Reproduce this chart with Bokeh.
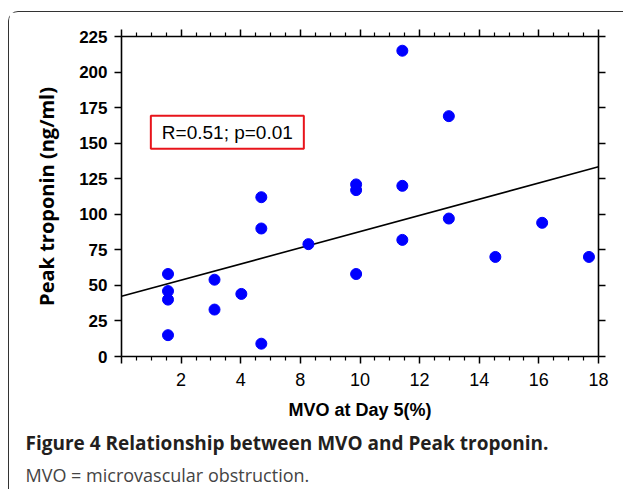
from bokeh.plotting import figure
from bokeh.models import (Range1d, LinearAxis, FixedTicker, Label, Title,
                          CustomJSTickFormatter, ColumnDataSource)
from bokeh.embed import file_html
from bokeh.resources import INLINE

# ---- data (x in axis units; each major interval = one labelled step) ----
mvo_x = [1.56, 1.56, 1.56, 1.56, 3.12, 3.12, 4.02, 4.69, 4.69, 4.69, 6.27,
         7.87, 7.87, 7.87, 9.42, 9.42, 9.42, 10.98, 10.98, 12.54, 14.11, 15.68]
troponin_y = [58, 46, 40, 15, 54, 33, 44, 112, 90, 9, 79,
              121, 117, 58, 215, 120, 82, 169, 97, 70, 94, 70]
fit_x = [0, 16]
fit_y = [42.3, 133.4]
x_ticks = [0, 2, 4, 6, 8, 10, 12, 14, 16]
x_tick_labels = ["", "2", "4", "8", "10", "12", "14", "16", "18"]
y_ticks = [0, 25, 50, 75, 100, 125, 150, 175, 200, 225]
stat_text = "R=0.51; p=0.01"
x_title = "MVO at Day 5(%)"
y_title = "Peak troponin (ng/ml)"
caption1 = "Figure 4 Relationship between MVO and Peak troponin."
caption2 = "MVO = microvascular obstruction."

minor_x = [t / 2 for t in range(0, 33) if t % 4 != 0]

p = figure(width=615, height=478, x_range=Range1d(0, 16), y_range=Range1d(0, 225),
           output_backend="svg", toolbar_location=None,
           x_axis_location=None, y_axis_location=None,
           min_border_left=112, min_border_right=26, min_border_top=24,
           min_border_bottom=134)
p.margin = (11, 0, 0, 8)
p.styles = {"border-top": "1.5px solid #333", "border-left": "1.5px solid #333",
            "border-top-left-radius": "10px"}
p.outline_line_color = None
p.grid.visible = False
p.background_fill_color = "white"
p.border_fill_color = "white"

blank = CustomJSTickFormatter(code="return ''")

def style_axis(ax):
    ax.axis_line_color = "black"
    ax.axis_line_width = 1.6
    ax.major_tick_line_color = "black"
    ax.major_tick_line_width = 1.5
    ax.minor_tick_line_color = "black"
    ax.minor_tick_line_width = 1.2
    ax.major_tick_in = 0
    ax.major_tick_out = 7
    ax.minor_tick_in = 0
    ax.minor_tick_out = 4

xb = LinearAxis(ticker=FixedTicker(ticks=x_ticks, minor_ticks=minor_x))
style_axis(xb)
xb.major_label_overrides = {t: l for t, l in zip(x_ticks, x_tick_labels)}
xb.major_label_text_font = "Liberation Sans"
xb.major_label_text_font_size = "18px"
xb.major_label_text_color = "black"
xb.major_label_standoff = 9
xb.axis_label = x_title
xb.axis_label_text_font = "Liberation Sans"
xb.axis_label_text_font_size = "18px"
xb.axis_label_text_font_style = "bold"
xb.axis_label_text_color = "black"
xb.axis_label_standoff = 11
p.add_layout(xb, "below")

xt = LinearAxis(ticker=FixedTicker(ticks=x_ticks, minor_ticks=minor_x), formatter=blank)
style_axis(xt)
xt.major_label_standoff = 0
p.add_layout(xt, "above")

yl = LinearAxis(ticker=FixedTicker(ticks=y_ticks, minor_ticks=[]))
style_axis(yl)
yl.major_label_text_font = "Liberation Sans"
yl.major_label_text_font_size = "17px"
yl.major_label_text_font_style = "bold"
yl.major_label_text_color = "black"
yl.major_label_standoff = 7
yl.axis_label = y_title
yl.axis_label_text_font = "Open Sans"
yl.axis_label_text_font_size = "20px"
yl.axis_label_text_font_style = "bold"
yl.axis_label_text_color = "black"
yl.axis_label_standoff = 16
p.add_layout(yl, "left")

yr = LinearAxis(ticker=FixedTicker(ticks=y_ticks, minor_ticks=[]), formatter=blank)
style_axis(yr)
yr.major_label_standoff = 0
p.add_layout(yr, "right")

src = ColumnDataSource(dict(x=mvo_x, y=troponin_y))
p.line(fit_x, fit_y, line_color="black", line_width=1.6)
p.scatter("x", "y", source=src, size=11, fill_color="#0000ff", line_color="#0000ff")

p.add_layout(Label(x=3.55, y=157.7, text=stat_text, text_align="center",
                   text_baseline="middle", text_font="Liberation Sans",
                   text_font_size="19px", text_color="black",
                   border_line_color="#e8141b", border_line_width=2,
                   padding=dict(top=6, right=11, bottom=6, left=11)))

t1 = Title(text=caption1, align="left", text_font="Open Sans", text_font_size="19px",
           text_font_style="bold", text_color="#231f20", offset=-96, standoff=10)
t2 = Title(text=caption2, align="left", text_font="Open Sans", text_font_size="18px",
           text_font_style="normal", text_color="#444444", offset=-96, standoff=0)
p.add_layout(t1, "below")
p.add_layout(t2, "below")

open("out.html", "w").write(file_html(p, INLINE))
